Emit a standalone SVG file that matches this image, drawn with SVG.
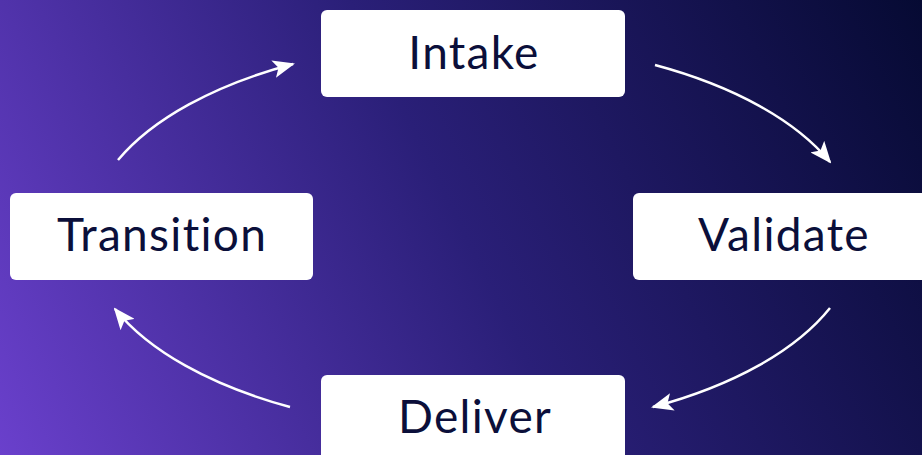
<svg xmlns="http://www.w3.org/2000/svg" width="922" height="455" viewBox="0 0 922 455">
<defs>
<linearGradient id="bg" x1="0" y1="455" x2="922" y2="0" gradientUnits="userSpaceOnUse">
<stop offset="0" stop-color="#6a40cc"/>
<stop offset="0.5" stop-color="#2a1f78"/>
<stop offset="1" stop-color="#060a33"/>
</linearGradient>
<marker id="ah" viewBox="0 0 22 18" refX="20" refY="9" markerWidth="22" markerHeight="18" markerUnits="userSpaceOnUse" orient="auto">
<path d="M0,0 L22,9 L0,18 L5,9 Z" fill="#ffffff"/>
</marker>
<style>
.box{fill:#ffffff;}
.lbl{font-family:"Lato","Noto Sans",sans-serif;font-size:46px;font-weight:400;letter-spacing:1.3px;font-variant-ligatures:none;fill:#0b0f3a;text-anchor:middle;}
.conn{fill:none;stroke:#ffffff;stroke-width:2.5;marker-end:url(#ah);}
</style>
</defs>
<rect width="922" height="455" fill="url(#bg)"/>
<g id="connectors">
<path class="conn" d="M655,65 A386,194 0 0 1 830,162"/>
<path class="conn" d="M830,308 A386,194 0 0 1 653,407"/>
<path class="conn" d="M290,407 A386,194 0 0 1 115,309"/>
<path class="conn" d="M118,160 A386,194 0 0 1 293,64"/>
</g>
<g id="intake">
<rect class="box" x="321" y="10" width="304" height="87" rx="6"/>
<text class="lbl" x="474" y="69">Intake</text>
</g>
<g id="validate">
<rect class="box" x="633" y="193" width="304" height="87" rx="6"/>
<text class="lbl" x="784" y="251">Validate</text>
</g>
<g id="deliver">
<rect class="box" x="321" y="375" width="304" height="87" rx="6"/>
<text class="lbl" x="475" y="433">Deliver</text>
</g>
<g id="transition">
<rect class="box" x="10" y="193" width="303" height="87" rx="6"/>
<text class="lbl" x="162" y="251">Transition</text>
</g>
</svg>
